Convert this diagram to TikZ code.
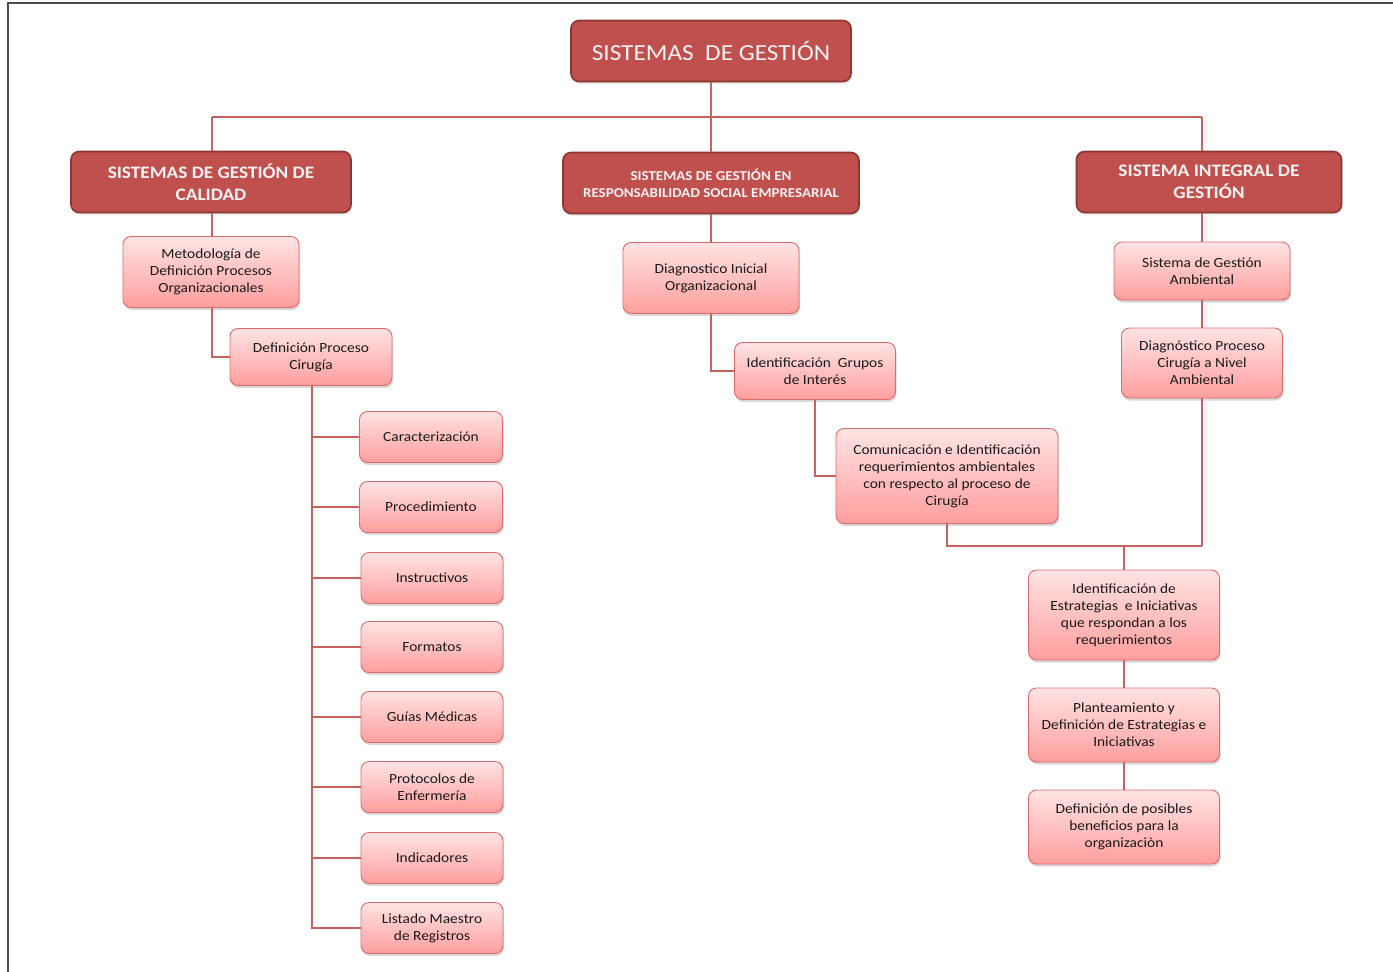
\documentclass[tikz,border=0pt]{standalone}
\usepackage{fontspec}
\setmainfont{Carlito}[FakeStretch=1.1]
\usetikzlibrary{shadows}
\definecolor{hdfill}{HTML}{C0504D}
\definecolor{hdline}{HTML}{8C3533}
\definecolor{subtop}{HTML}{FFE3E3}
\definecolor{subbot}{HTML}{FF9E9E}
\definecolor{subline}{HTML}{E06A6A}
\definecolor{conncol}{HTML}{C8605D}
\definecolor{txt}{HTML}{1A1A1A}
\definecolor{hdtxt}{HTML}{FBF2F2}
\tikzset{
  hdbox/.style={draw=hdline, line width=1.6pt, fill=hdfill, rounded corners=8pt,
    text=hdtxt, align=center, inner sep=0pt,
    drop shadow={shadow xshift=1pt, shadow yshift=-2pt, opacity=0.25}},
  subbox/.style={draw=subline, line width=0.9pt, top color=subtop, bottom color=subbot,
    rounded corners=8pt, text=txt, align=center, inner sep=0pt,
    font=\fontsize{14}{17}\selectfont,
    drop shadow={shadow xshift=1pt, shadow yshift=-2.5pt, opacity=0.3}},
  conn/.style={draw=conncol, line width=1.1pt},
  frameline/.style={draw=black!70, line width=1.4pt}
}
\begin{document}
\begin{tikzpicture}[x=1pt,y=-1pt]
\useasboundingbox (0,0) rectangle (1393,972);
\fill[white] (0,0) rectangle (1393,972);
\draw[frameline] (8,972) -- (8,3) -- (1393,3);

% headers
\node[hdbox, minimum width=280pt, minimum height=61pt, font=\fontsize{23}{28}\selectfont] (root) at (711,51) {SISTEMAS\ \ DE GESTIÓN};
\node[hdbox, minimum width=280pt, minimum height=61pt, font=\bfseries\fontsize{17.5}{22}\selectfont] (h1) at (211,182) {SISTEMAS DE GESTIÓN DE\\CALIDAD};
\node[hdbox, minimum width=296pt, minimum height=61pt, font=\bfseries\fontsize{13.6}{17}\selectfont] (h2) at (711,183) {SISTEMAS DE GESTIÓN EN\\RESPONSABILIDAD SOCIAL EMPRESARIAL};
\node[hdbox, minimum width=265pt, minimum height=61pt, font=\bfseries\fontsize{17.6}{22}\selectfont] (h3) at (1209,182) {SISTEMA INTEGRAL DE\\GESTIÓN};

% left branch
\node[subbox, minimum width=176pt, minimum height=71pt] (met) at (211,272) {Metodología de\\Definición Procesos\\Organizacionales};
\node[subbox, minimum width=162pt, minimum height=57pt] (dpc) at (311,357) {Definición Proceso\\Cirugía};
\node[subbox, minimum width=143pt, minimum height=51pt] (car) at (431,437) {Caracterización};
\node[subbox, minimum width=143pt, minimum height=51pt] (pro) at (431,507) {Procedimiento};
\node[subbox, minimum width=142pt, minimum height=51pt] (ins) at (432,578) {Instructivos};
\node[subbox, minimum width=142pt, minimum height=51pt] (for) at (432,647) {Formatos};
\node[subbox, minimum width=142pt, minimum height=51pt] (gui) at (432,717) {Guías Médicas};
\node[subbox, minimum width=142pt, minimum height=51pt] (prt) at (432,787) {Protocolos de\\Enfermería};
\node[subbox, minimum width=142pt, minimum height=51pt] (ind) at (432,858) {Indicadores};
\node[subbox, minimum width=142pt, minimum height=51pt] (lis) at (432,928) {Listado Maestro\\de Registros};

% middle branch
\node[subbox, minimum width=176pt, minimum height=71pt] (dio) at (711,278) {Diagnostico Inicial\\Organizacional};
\node[subbox, minimum width=161pt, minimum height=57pt] (igi) at (815,371) {Identificación\ \ Grupos\\de Interés};
\node[subbox, minimum width=222pt, minimum height=95pt] (com) at (947,476) {Comunicación e Identificación\\requerimientos ambientales\\con respecto al proceso de\\Cirugía};

% right branch
\node[subbox, minimum width=176pt, minimum height=58pt] (sga) at (1202,271) {Sistema de Gestión\\Ambiental};
\node[subbox, minimum width=161pt, minimum height=70pt] (dpa) at (1202,363) {Diagnóstico Proceso\\Cirugía a Nivel\\Ambiental};
\node[subbox, minimum width=191pt, minimum height=90pt] (ies) at (1124,615) {Identificación de\\Estrategias\ \ e Iniciativas\\que respondan a los\\requerimientos};
\node[subbox, minimum width=191pt, minimum height=74pt] (pla) at (1124,725) {Planteamiento y\\Definición de Estrategias e\\Iniciativas};
\node[subbox, minimum width=191pt, minimum height=74pt] (dbe) at (1124,827) {Definición de posibles\\beneficios para la\\organizaciòn};

% connectors
\coordinate (busL) at (212,117);
\coordinate (busR) at (1202,117);
\coordinate (bus2) at (1124,546);
\draw[conn] (root.south) -- (root.south |- busL);
\draw[conn] (busL) -- (busR);
\draw[conn] (busL) -- (busL |- h1.north);
\draw[conn] (root.south |- busL) -- (h2.north);
\draw[conn] (busR) -- (busR |- h3.north);

\draw[conn] (busL |- h1.south) -- (busL |- met.north);
\draw[conn] (busL |- met.south) |- (dpc.west);
\foreach \n in {car,pro,ins,for,gui,prt,ind,lis}
  \draw[conn] (312,386) |- (\n.west);

\draw[conn] (h2.south) -- (dio.north);
\draw[conn] (dio.south) |- (igi.west);
\draw[conn] (igi.south) |- (com.west);
\draw[conn] (com.south) |- (busR |- bus2);
\draw[conn] (dpa.south) -- (dpa.south |- bus2);
\draw[conn] (bus2) -- (ies.north);

\draw[conn] (busR |- h3.south) -- (sga.north);
\draw[conn] (sga.south) -- (dpa.north);
\draw[conn] (ies.south) -- (pla.north);
\draw[conn] (pla.south) -- (dbe.north);
\end{tikzpicture}
\end{document}
